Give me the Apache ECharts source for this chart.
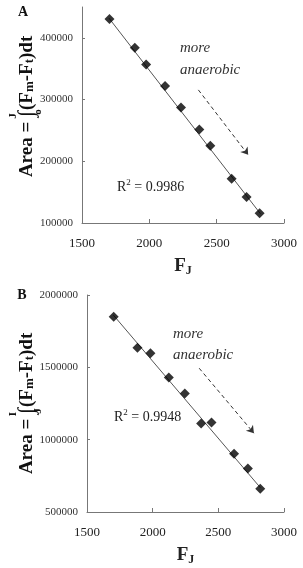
<!DOCTYPE html>
<html>
<head>
<meta charset="utf-8">
<script src="https://cdn.jsdelivr.net/npm/echarts@6/dist/echarts.min.js"></script>
<style>
html, body { margin: 0; padding: 0; background: #fff; }
#container { width: 303px; height: 568px; }
</style>
</head>
<body>
<div id="container"></div>
<script>
// panel A
var fjA = [1704, 1892, 1976, 2117, 2235, 2371, 2453, 2611, 2722, 2819];
var areaA = [430600, 384000, 357000, 322000, 287000, 251500, 225000, 171700, 142000, 116000];
var fitA = [[1700, 432000], [2825, 115000]];
var arrowA = [[2364, 315700], [2734, 210500]];
var r2A = '0.9986';

// panel B
var fjB = [1703, 1884, 1983, 2123, 2245, 2369, 2448, 2620, 2725, 2819];
var areaB = [1850000, 1636000, 1597000, 1429000, 1318500, 1111500, 1118000, 902000, 801000, 661000];
var fitB = [[1700, 1862000], [2820, 668000]];
var arrowB = [[2354, 1494000], [2771, 1045000]];
var r2B = '0.9948';

var serif = '"Liberation Serif", "DejaVu Serif", serif';

var dom = document.getElementById("container");
var myChart = echarts.init(dom);

function pairs(xs, ys) {
    return xs.map(function (x, i) { return [x, ys[i]]; });
}

function plain(v) { return String(v); }

function xAxis(idx) {
    return {
        gridIndex: idx,
        type: 'value',
        min: 1500, max: 3000, interval: 500,
        axisLine: { lineStyle: { color: '#777', width: 1 } },
        axisTick: { inside: true, length: 4, lineStyle: { color: '#777' } },
        splitLine: { show: false },
        axisLabel: { fontFamily: serif, fontSize: 13, color: '#222', margin: 14, formatter: plain },
        name: '{b|F}{s|J}',
        nameLocation: 'middle',
        nameGap: 32,
        nameTextStyle: {
            rich: {
                b: { fontFamily: serif, fontWeight: 'bold', fontSize: 19, lineHeight: 22, color: '#222' },
                s: { fontFamily: serif, fontWeight: 'bold', fontSize: 12, lineHeight: 12, verticalAlign: 'bottom', color: '#222' }
            }
        }
    };
}

function yAxis(idx, mn, mx, step) {
    return {
        gridIndex: idx,
        type: 'value',
        min: mn, max: mx, interval: step,
        axisLine: { show: true, lineStyle: { color: '#777', width: 1 } },
        axisTick: { show: true, inside: true, length: 3, lineStyle: { color: '#777' } },
        splitLine: { show: false },
        axisLabel: { fontFamily: serif, fontSize: 11, color: '#333', margin: 9, formatter: plain,
            showMaxLabel: mx % step === 0 }
    };
}

function fitSeries(idx, fit, arrow) {
    return {
        type: 'line',
        xAxisIndex: idx, yAxisIndex: idx,
        data: fit,
        symbol: 'none',
        lineStyle: { color: '#555', width: 1 },
        z: 2,
        markLine: {
            silent: true,
            symbol: ['none', 'arrow'],
            symbolSize: 7,
            label: { show: false },
            lineStyle: { color: '#333', width: 1, type: [4, 3] },
            data: [[{ coord: arrow[0] }, { coord: arrow[1] }]]
        }
    };
}

function dotSeries(idx, xs, ys) {
    return {
        type: 'scatter',
        xAxisIndex: idx, yAxisIndex: idx,
        data: pairs(xs, ys),
        symbol: 'diamond',
        symbolSize: 10,
        itemStyle: { color: '#000' },
        z: 3
    };
}

function yTitle(cx, cy, hi, lo, hiPos, loPos) {
    var big = 'bold 19px ' + serif;
    var small = 'bold 11px ' + serif;
    return {
        type: 'group', x: cx, y: cy, rotation: Math.PI / 2,
        children: [
            { type: 'text', style: { text: '{b|Area = }{i|\u222B}', fill: '#111',
                align: 'right', textAlign: 'right', verticalAlign: 'middle', textVerticalAlign: 'middle',
                rich: {
                    b: { font: big, lineHeight: 24, fill: '#111' },
                    i: { font: '22px ' + serif, lineHeight: 24, fill: '#111' }
                } } },
            { type: 'text', x: 1, style: { text: '{b|(F}{s|m}{b|-F}{s|t}{b|)dt}', fill: '#111',
                align: 'left', textAlign: 'left', verticalAlign: 'middle', textVerticalAlign: 'middle',
                rich: {
                    b: { font: big, lineHeight: 19, fill: '#111' },
                    s: { font: 'bold 13px ' + serif, lineHeight: 13, verticalAlign: 'bottom', fill: '#111' }
                } } },
            { type: 'text', x: hiPos[0], y: hiPos[1], style: { text: hi, font: small, fill: '#111',
                align: 'center', textAlign: 'center', verticalAlign: 'middle', textVerticalAlign: 'middle' } },
            { type: 'text', x: loPos[0], y: loPos[1], style: { text: lo, font: small, fill: '#111',
                align: 'center', textAlign: 'center', verticalAlign: 'middle', textVerticalAlign: 'middle' } }
        ]
    };
}

function note(x, y, txt, font, color) {
    return { type: 'text', x: x, y: y, style: { text: txt, font: font, fill: color || '#333',
        align: 'left', textAlign: 'left', verticalAlign: 'middle', textVerticalAlign: 'middle' } };
}

function r2(x, y, val) {
    return { type: 'text', x: x, y: y, style: {
        text: '{n|R}{p|2}{n| = ' + val + '}',
        align: 'left', textAlign: 'left', verticalAlign: 'middle', textVerticalAlign: 'middle',
        rich: {
            n: { font: '14px ' + serif, lineHeight: 18, fill: '#222' },
            p: { font: '9px ' + serif, lineHeight: 9, verticalAlign: 'top', fill: '#222' }
        } } };
}

option = {
    animation: false,
    grid: [
        { left: 82, right: 19, top: 7, height: 216 },
        { left: 87, right: 19, top: 295, height: 217 }
    ],
    xAxis: [xAxis(0), xAxis(1)],
    yAxis: [yAxis(0, 100000, 450000, 100000), yAxis(1, 500000, 2000000, 500000)],
    series: [
        fitSeries(0, fitA, arrowA),
        dotSeries(0, fjA, areaA),
        fitSeries(1, fitB, arrowB),
        dotSeries(1, fjB, areaB)
    ],
    graphic: [
        { type: 'text', x: 23, y: 12, style: { text: 'A', font: 'bold 14px ' + serif, fill: '#111',
            align: 'center', textAlign: 'center', verticalAlign: 'middle', textVerticalAlign: 'middle' } },
        { type: 'text', x: 22, y: 295, style: { text: 'B', font: 'bold 14px ' + serif, fill: '#111',
            align: 'center', textAlign: 'center', verticalAlign: 'middle', textVerticalAlign: 'middle' } },
        yTitle(27, 111, 'J', 'o', [-5, -14], [-1, 11]),
        yTitle(27, 408, 'I', 'J', [-6, -14], [-3, 11]),
        note(180, 48, 'more', 'italic 15px ' + serif),
        note(180, 70, 'anaerobic', 'italic 15px ' + serif),
        note(173, 334, 'more', 'italic 15px ' + serif),
        note(173, 355, 'anaerobic', 'italic 15px ' + serif),
        r2(117, 187, r2A),
        r2(114, 417, r2B)
    ]
};

if (option && typeof option === "object") {
    myChart.setOption(option, true);
}
</script>
</body>
</html>
